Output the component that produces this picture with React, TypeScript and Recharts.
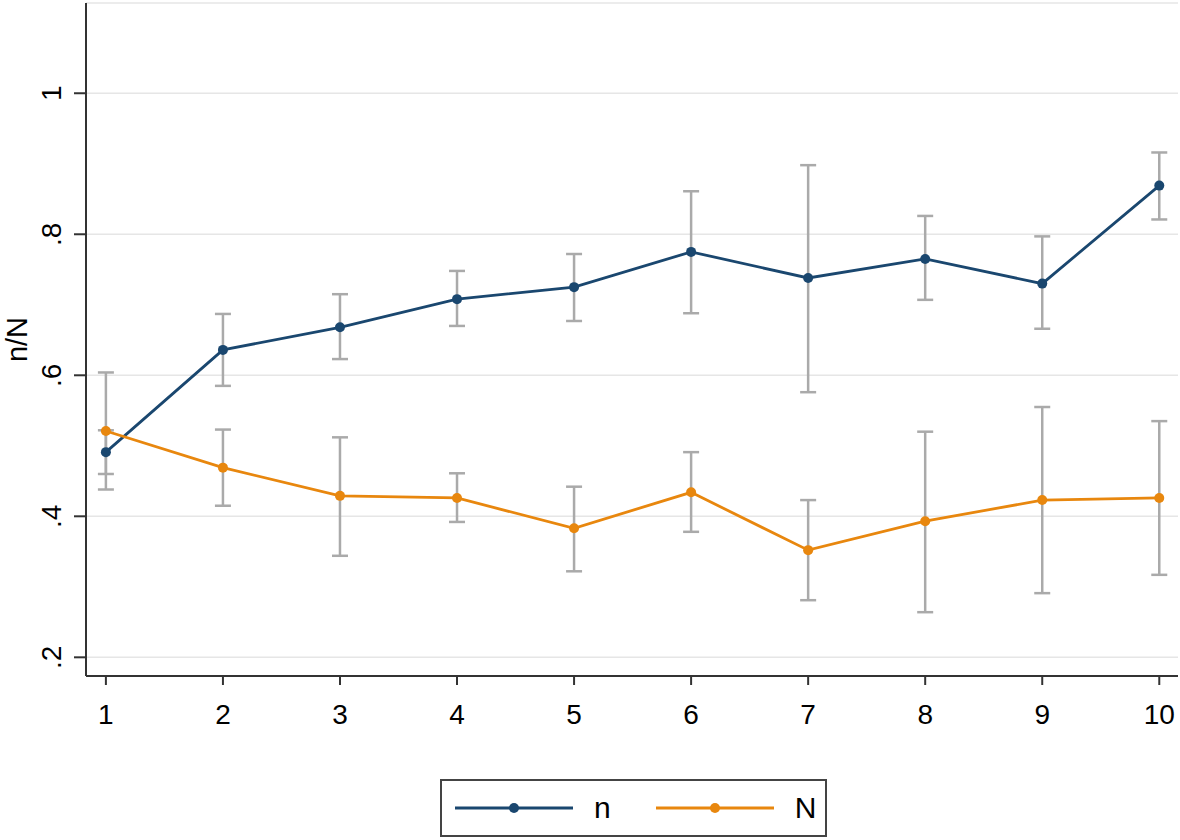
import React from 'react';
import { LineChart, Line, XAxis, YAxis, CartesianGrid, ErrorBar } from 'recharts';

const periods = [1, 2, 3, 4, 5, 6, 7, 8, 9, 10];
const nValues = [0.491, 0.636, 0.668, 0.708, 0.725, 0.775, 0.738, 0.765, 0.730, 0.869];
const nLower = [0.460, 0.585, 0.623, 0.670, 0.677, 0.688, 0.576, 0.707, 0.666, 0.821];
const nUpper = [0.522, 0.687, 0.715, 0.748, 0.772, 0.861, 0.898, 0.826, 0.797, 0.916];
const NValues = [0.521, 0.469, 0.429, 0.426, 0.383, 0.434, 0.352, 0.393, 0.423, 0.426];
const NLower = [0.438, 0.415, 0.344, 0.392, 0.322, 0.378, 0.281, 0.264, 0.291, 0.317];
const NUpper = [0.604, 0.523, 0.512, 0.461, 0.442, 0.491, 0.423, 0.520, 0.555, 0.535];
const yTicks = [0.2, 0.4, 0.6, 0.8, 1];
const yTickLabels = ['.2', '.4', '.6', '.8', '1'];
const seriesNames = ['n', 'N'];
const yTitle = 'n/N';

const NAVY = '#1a476f';
const ORANGE = '#e8870e';
const GREY_BAR = '#aaaaaa';
const AXIS = '#333333';
const FONT = '"Liberation Sans", Arial, sans-serif';

const data = periods.map((p, i) => ({
  period: p,
  n: nValues[i],
  nErr: [nValues[i] - nLower[i], nUpper[i] - nValues[i]],
  N: NValues[i],
  NErr: [NValues[i] - NLower[i], NUpper[i] - NValues[i]],
}));

const XTick = (props: any) => {
  const { x, y, payload } = props;
  return (
    <text x={x} y={y} dy={39} textAnchor="middle" fontSize={28} fontFamily={FONT} fill="#000">
      {payload.value}
    </text>
  );
};

const YTick = (props: any) => {
  const { x, y, payload } = props;
  const idx = yTicks.indexOf(payload.value);
  const label = idx >= 0 ? yTickLabels[idx] : String(payload.value);
  const bx = x - 13;
  return (
    <text x={bx} y={y} transform={`rotate(-90 ${bx} ${y})`} textAnchor="middle" fontSize={28} fontFamily={FONT} fill="#000">
      {label}
    </text>
  );
};

const YTitle = (props: any) => {
  const vb = props.viewBox || {};
  const cy = (vb.y ?? 3) + (vb.height ?? 673) / 2;
  const bx = 27;
  return (
    <text x={bx} y={cy} transform={`rotate(-90 ${bx} ${cy})`} textAnchor="middle" fontSize={29} fontFamily={FONT} fill="#000">
      {yTitle}
    </text>
  );
};

const LegendItem = ({ color, label }: { color: string; label: string }) => (
  <div style={{ display: 'flex', alignItems: 'center' }}>
    <svg width={120} height={20} style={{ display: 'block' }}>
      <line x1={1} y1={10} x2={119} y2={10} stroke={color} strokeWidth={2.8} />
      <circle cx={60} cy={10} r={5} fill={color} />
    </svg>
    <span style={{ marginLeft: 20, fontSize: 30, fontFamily: FONT, color: '#000', lineHeight: '30px' }}>{label}</span>
  </div>
);

export default function App() {
  return (
    <div style={{ position: 'absolute', left: 0, top: 0, width: 1180, height: 840, background: '#fff' }}>
      <LineChart width={1180} height={840} data={data} margin={{ top: 3, right: 2, bottom: 104, left: 0 }}>
        <CartesianGrid horizontal vertical={false} stroke="#e6e6e6" strokeWidth={1.5} />
        <XAxis
          dataKey="period"
          type="number"
          domain={[0.83, 10.16]}
          ticks={periods}
          allowDataOverflow
          height={60}
          tickSize={9}
          tickMargin={0}
          tick={<XTick />}
          axisLine={{ stroke: AXIS, strokeWidth: 2 }}
          tickLine={{ stroke: AXIS, strokeWidth: 2 }}
        />
        <YAxis
          type="number"
          domain={[0.1735, 1.128]}
          ticks={yTicks}
          allowDataOverflow
          width={86}
          tickSize={12}
          tickMargin={0}
          tick={<YTick />}
          axisLine={{ stroke: AXIS, strokeWidth: 2 }}
          tickLine={{ stroke: AXIS, strokeWidth: 2 }}
          label={<YTitle />}
        />
        <Line dataKey="n" stroke="none" dot={false} activeDot={false} legendType="none" isAnimationActive={false}>
          <ErrorBar dataKey="nErr" direction="y" width={8} stroke={GREY_BAR} strokeWidth={2.5} />
        </Line>
        <Line dataKey="N" stroke="none" dot={false} activeDot={false} legendType="none" isAnimationActive={false}>
          <ErrorBar dataKey="NErr" direction="y" width={8} stroke={GREY_BAR} strokeWidth={2.5} />
        </Line>
        <Line dataKey="n" name={seriesNames[0]} stroke={NAVY} strokeWidth={2.8} dot={{ r: 5, fill: NAVY, stroke: NAVY, strokeWidth: 0 }} isAnimationActive={false} />
        <Line dataKey="N" name={seriesNames[1]} stroke={ORANGE} strokeWidth={2.8} dot={{ r: 5, fill: ORANGE, stroke: ORANGE, strokeWidth: 0 }} isAnimationActive={false} />
      </LineChart>
      <div
        style={{
          position: 'absolute',
          left: 440,
          top: 779,
          width: 387,
          height: 58,
          border: '2px solid #444',
          display: 'flex',
          alignItems: 'center',
          paddingLeft: 12,
          boxSizing: 'border-box',
          gap: 44,
        }}
      >
        <LegendItem color={NAVY} label={seriesNames[0]} />
        <LegendItem color={ORANGE} label={seriesNames[1]} />
      </div>
    </div>
  );
}
